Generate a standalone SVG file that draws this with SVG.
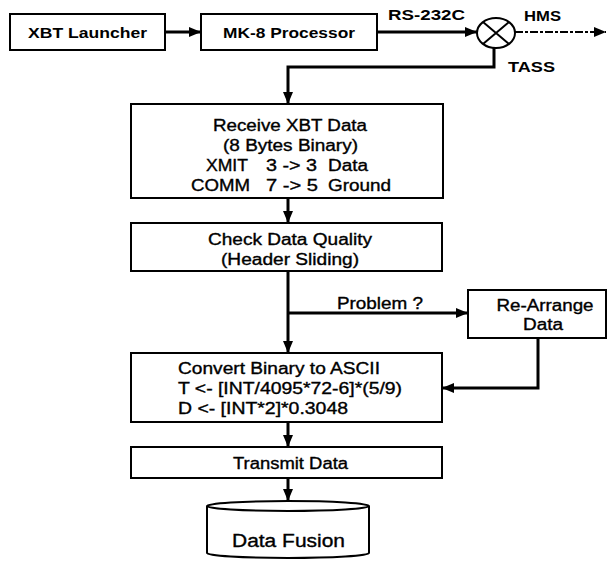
<svg xmlns="http://www.w3.org/2000/svg" width="608" height="561" viewBox="0 0 608 561">
<defs>
<marker id="ah" viewBox="0 0 12 10" refX="12" refY="5" markerWidth="12" markerHeight="10" markerUnits="userSpaceOnUse" orient="auto">
<path d="M0,0 L12,5 L0,10 z" fill="#000"/>
</marker>
</defs>
<style>
.box{fill:#fff;stroke:#000;stroke-width:2}
.t{font-family:"Liberation Sans",Arial,sans-serif;font-size:16px;fill:#000;stroke:#000;stroke-width:0.35}
.b{font-family:"Liberation Sans",Arial,sans-serif;font-size:15px;font-weight:bold;fill:#000}
.c{text-anchor:middle}
.flow{fill:none;stroke:#000;stroke-width:3;marker-end:url(#ah)}
</style>
<rect width="608" height="561" fill="#fff"/>
<g id="connectors">
<path class="flow" d="M165,32 H201"/>
<path class="flow" d="M377,32 H477"/>
<path class="flow" d="M515,32 H606" stroke-dasharray="8 2 3 2" style="stroke-width:2"/>
<path class="flow" d="M494,48 V67 H288 V104"/>
<path class="flow" d="M288,198 V223"/>
<path class="flow" d="M288,271 V353"/>
<path class="flow" d="M288,313 H468"/>
<path class="flow" d="M538,338 V388 H442"/>
<path class="flow" d="M288,422 V447"/>
<path class="flow" d="M288,478 V501"/>
<text class="b" x="388" y="20" textLength="77" lengthAdjust="spacingAndGlyphs">RS-232C</text>
<text class="b" x="524" y="21" textLength="37" lengthAdjust="spacingAndGlyphs">HMS</text>
<text class="b" x="508" y="72" textLength="47" lengthAdjust="spacingAndGlyphs">TASS</text>
<text class="t" x="337" y="309" textLength="86" lengthAdjust="spacingAndGlyphs">Problem ?</text>
</g>
<g id="xbt-launcher">
<rect class="box" x="10" y="14" width="155" height="36"/>
<text class="b c" x="87.5" y="38" textLength="119" lengthAdjust="spacingAndGlyphs">XBT Launcher</text>
</g>
<g id="mk8-processor">
<rect class="box" x="201" y="14" width="176" height="36"/>
<text class="b c" x="289" y="38" textLength="132" lengthAdjust="spacingAndGlyphs">MK-8 Processor</text>
</g>
<g id="junction">
<ellipse cx="496" cy="33" rx="19" ry="15" fill="#fff" stroke="#000" stroke-width="2"/>
<path d="M483,22 L509,44 M509,22 L483,44" stroke="#000" stroke-width="2"/>
</g>
<g id="receive">
<rect class="box" x="131" y="104" width="312" height="94"/>
<text class="t c" x="290" y="131" textLength="154" lengthAdjust="spacingAndGlyphs">Receive XBT Data</text>
<text class="t c" x="290.5" y="151" textLength="135" lengthAdjust="spacingAndGlyphs">(8 Bytes Binary)</text>
<text class="t" x="206" y="171" textLength="42" lengthAdjust="spacingAndGlyphs">XMIT</text>
<text class="t" x="266" y="171" textLength="51" lengthAdjust="spacingAndGlyphs">3 -&gt; 3</text>
<text class="t" x="328" y="171" textLength="40" lengthAdjust="spacingAndGlyphs">Data</text>
<text class="t" x="191" y="191" textLength="59" lengthAdjust="spacingAndGlyphs">COMM</text>
<text class="t" x="266" y="191" textLength="52" lengthAdjust="spacingAndGlyphs">7 -&gt; 5</text>
<text class="t" x="328" y="191" textLength="63" lengthAdjust="spacingAndGlyphs">Ground</text>
</g>
<g id="check">
<rect class="box" x="131" y="223" width="311" height="48"/>
<text class="t c" x="290" y="245" textLength="164" lengthAdjust="spacingAndGlyphs">Check Data Quality</text>
<text class="t c" x="290" y="265" textLength="138" lengthAdjust="spacingAndGlyphs">(Header Sliding)</text>
</g>
<g id="rearrange">
<rect class="box" x="468" y="290" width="138" height="48"/>
<text class="t c" x="545" y="311" textLength="97" lengthAdjust="spacingAndGlyphs">Re-Arrange</text>
<text class="t c" x="543" y="330" textLength="40" lengthAdjust="spacingAndGlyphs">Data</text>
</g>
<g id="convert">
<rect class="box" x="131" y="353" width="311" height="69"/>
<text class="t" x="178" y="374" textLength="202" lengthAdjust="spacingAndGlyphs">Convert Binary to ASCII</text>
<text class="t" x="178" y="394" textLength="224" lengthAdjust="spacingAndGlyphs">T &lt;- [INT/4095*72-6]*(5/9)</text>
<text class="t" x="178" y="414" textLength="170" lengthAdjust="spacingAndGlyphs">D &lt;- [INT*2]*0.3048</text>
</g>
<g id="transmit">
<rect class="box" x="131" y="447" width="311" height="31"/>
<text class="t c" x="290.5" y="469" textLength="115" lengthAdjust="spacingAndGlyphs">Transmit Data</text>
</g>
<g id="data-fusion">
<path d="M207,506 V553 A81,5 0 0 0 369,553 V506" fill="#fff" stroke="#000" stroke-width="2"/>
<ellipse cx="288" cy="506" rx="81" ry="5" fill="#fff" stroke="#000" stroke-width="2"/>
<text class="t c" x="288.5" y="547" style="font-size:18px" textLength="113" lengthAdjust="spacingAndGlyphs">Data Fusion</text>
</g>
</svg>
